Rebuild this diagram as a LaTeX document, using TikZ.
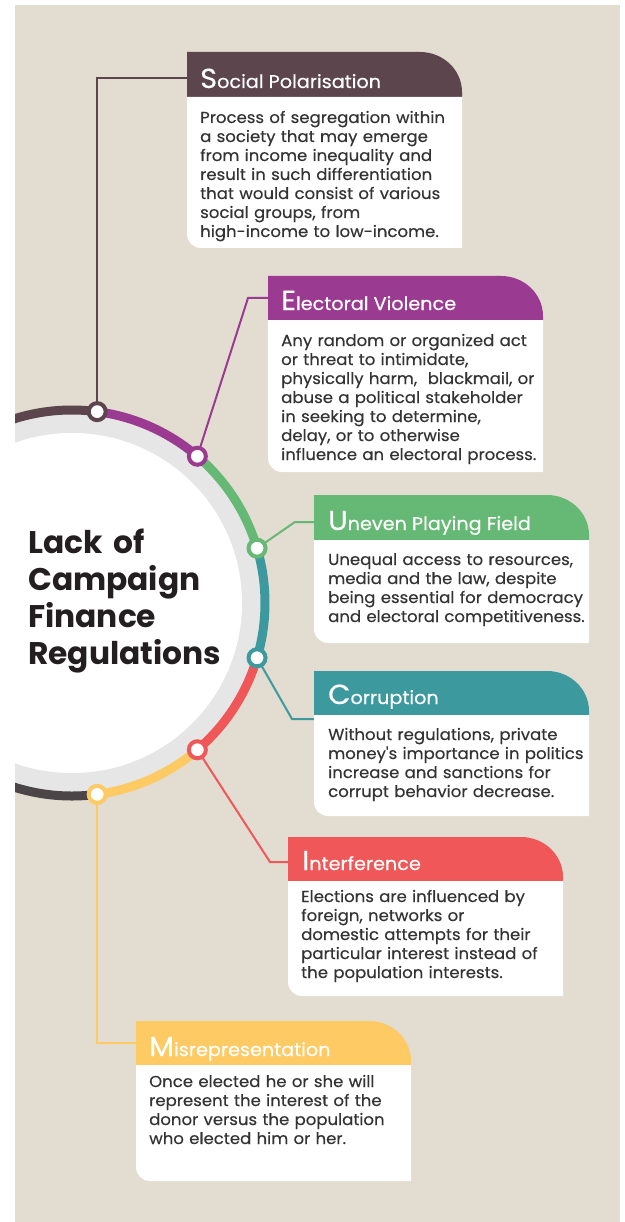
\documentclass[tikz,border=0pt]{standalone}
\usepackage{fontspec}
\setmainfont{Poppins}
\newfontfamily\bodyfont{Poppins}[FakeStretch=1.04,FakeBold=0.35]
\newfontfamily\headfont{Poppins}[FakeStretch=1.05,FakeBold=0.5]
\usetikzlibrary{calc}
\definecolor{bg}{HTML}{E2DCD1}
\definecolor{cS}{HTML}{5D454E}
\definecolor{cE}{HTML}{9A3B91}
\definecolor{cU}{HTML}{66B875}
\definecolor{cC}{HTML}{3C9A9F}
\definecolor{cI}{HTML}{EF5758}
\definecolor{cM}{HTML}{FDCA63}
\definecolor{cD}{HTML}{4B4547}
\definecolor{ring}{HTML}{E6E6E6}
\definecolor{ttl}{HTML}{231F20}
\definecolor{bodytxt}{HTML}{333333}
\newcommand{\cardshape}[5]{%
  \fill[#5] (#1,-#3) -- (#1,-#2) -- ({#1+233},-#2)
     arc[start angle=90,end angle=0,x radius=42,y radius=40] -- ({#1+275},-#3) -- cycle;
  \fill[white] (#1,-#3) -- ({#1+275},-#3) -- ({#1+275},-#4) -- ({#1+14},-#4)
     arc[start angle=270,end angle=180,radius=14] -- cycle;
}
\tikzset{
  dotnode/.style={circle,fill=white,draw=#1,line width=4pt,minimum size=17pt,inner sep=0pt},
  seg/.style={line width=9pt,draw=#1},
  link/.style={line width=2pt,draw=#1},
  headtxt/.style={anchor=base west,inner sep=0pt,text=white,font=\headfont\fontsize{18.3}{20}\selectfont},
  bodytext/.style={anchor=base west,inner sep=0pt,text=bodytxt,align=left,text width=300pt,
     font=\bodyfont\fontsize{15.9}{19}\selectfont},
  titletext/.style={anchor=base west,inner sep=0pt,text=ttl,align=left,text width=260pt,
     font=\bfseries\fontsize{31.3}{37}\selectfont}
}
\newcommand{\initial}[1]{{\fontsize{27.5}{27.5}\selectfont #1}}
\begin{document}
\begin{tikzpicture}[x=1pt,y=1pt]
\useasboundingbox (0,0) rectangle (624,-1222);
\fill[bg] (15,-5) rectangle (620,-1222);
\coordinate (C) at (72,-603);
\begin{scope}
\clip (15,-5) rectangle (620,-1222);
\fill[ring] (C) circle (189);
\fill[white] (C) circle (170);
\draw[seg=cS] ($(C)+(160:193)$) arc[start angle=160,end angle=82.5,radius=193];
\draw[seg=cE] ($(C)+(82.5:193)$) arc[start angle=82.5,end angle=49.5,radius=193];
\draw[seg=cU] ($(C)+(49.5:193)$) arc[start angle=49.5,end angle=16.5,radius=193];
\draw[seg=cC] ($(C)+(16.5:193)$) arc[start angle=16.5,end angle=-16.5,radius=193];
\draw[seg=cI] ($(C)+(-16.5:193)$) arc[start angle=-16.5,end angle=-49.5,radius=193];
\draw[seg=cM] ($(C)+(-49.5:193)$) arc[start angle=-49.5,end angle=-82.5,radius=193];
\draw[seg=cD] ($(C)+(-82.5:193)$) arc[start angle=-82.5,end angle=-160,radius=193];
\end{scope}
\coordinate (p1) at ($(C)+(82.5:193)$);
\coordinate (p2) at ($(C)+(49.5:193)$);
\coordinate (p3) at ($(C)+(16.5:193)$);
\coordinate (p4) at ($(C)+(-16.5:193)$);
\coordinate (p5) at ($(C)+(-49.5:193)$);
\coordinate (p6) at ($(C)+(-82.5:193)$);
\coordinate (h1) at (187,-78);
\coordinate (b2) at (248,-298);  \coordinate (h2) at (268,-298);
\coordinate (b3) at (295,-522);  \coordinate (h3) at (314,-522);
\coordinate (b4) at (292,-719);  \coordinate (h4) at (314,-719);
\coordinate (b5) at (270,-862);  \coordinate (h5) at (288,-862);
\coordinate (h6) at (136,-1043);
\draw[link=cS] (p1) |- (h1);
\draw[link=cE] (p2) -- (b2) -- (h2);
\draw[link=cU] (p3) -- (b3) -- (h3);
\draw[link=cC] (p4) -- (b4) -- (h4);
\draw[link=cI] (p5) -- (b5) -- (h5);
\draw[link=cM] (p6) |- (h6);
\node[dotnode=cS] (d1) at (p1) {};
\node[dotnode=cE] (d2) at (p2) {};
\node[dotnode=cU] (d3) at (p3) {};
\node[dotnode=cC] (d4) at (p4) {};
\node[dotnode=cI] (d5) at (p5) {};
\node[dotnode=cM] (d6) at (p6) {};
\cardshape{187}{52}{97}{248}{cS}
\cardshape{268}{276}{320}{472}{cE}
\cardshape{314}{495}{540}{643}{cU}
\cardshape{314}{671}{715}{816}{cC}
\cardshape{288}{837}{881}{996}{cI}
\cardshape{136}{1021}{1065}{1181}{cM}
\node[headtxt] (t1) at (200,-88) {\initial{S}ocial Polarisation};
\node[headtxt] (t2) at (281,-310) {\initial{E}lectoral Violence};
\node[headtxt] (t3) at (328,-530) {\initial{U}neven Playing Field};
\node[headtxt] (t4) at (328,-704) {\initial{C}orruption};
\node[headtxt] (t5) at (302,-870) {\initial{I}nterference};
\node[headtxt] (t6) at (149,-1056) {\initial{M}isrepresentation};
\node[bodytext] (x1) at (200,-123) {Process of segregation within\\a society that may emerge\\from income inequality and\\result in such differentiation\\that would consist of various\\social groups, from\\high-income to low-income.};
\node[bodytext] (x2) at (281,-346) {Any random or organized act\\or threat to intimidate,\\physically harm,\ \ blackmail, or\\abuse a political stakeholder\\in seeking to determine,\\delay, or to otherwise\\influence an electoral process.};
\node[bodytext] (x3) at (328,-565) {Unequal access to resources,\\media and the law, despite\\being essential for democracy\\and electoral competitiveness.};
\node[bodytext] (x4) at (328,-740) {Without regulations, private\\money's importance in politics\\increase and sanctions for\\corrupt behavior decrease.};
\node[bodytext] (x5) at (301,-902) {Elections are influenced by\\foreign, networks or\\domestic attempts for their\\particular interest instead of\\the population interests.};
\node[bodytext] (x6) at (149,-1087) {Once elected he or she will\\represent the interest of the\\donor versus the population\\who elected him or her.};
\node[titletext] (title) at (28,-553) {Lack of\\Campaign\\Finance\\Regulations};
\end{tikzpicture}
\end{document}
